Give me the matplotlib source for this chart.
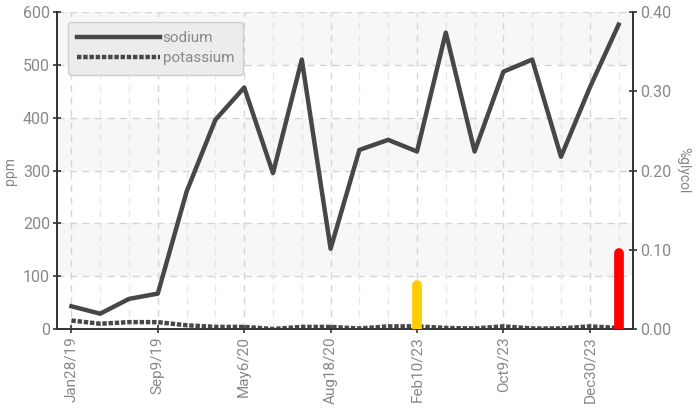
import matplotlib.pyplot as plt
import numpy as np

plt.rcParams['font.family'] = ['Roboto', 'DejaVu Sans']

sodium = [43, 29, 57, 67, 260, 396, 457, 295, 510, 152,
          339, 358, 336, 561, 336, 487, 510, 326, 457, 576]
potassium = [16, 10, 13, 13, 7, 4, 4, 0, 4, 4,
             1, 5, 5, 2, 1, 5, 1, 1, 5, 2]
tick_labels = ['Jan28/19', 'Sep9/19', 'May6/20', 'Aug18/20',
               'Feb10/23', 'Oct9/23', 'Dec30/23']
glycol_idx = [12, 19]
glycol_val = [0.055, 0.096]
glycol_col = ['#ffcc00', '#ff0000']

TXT = '#888888'
LINE = '#474747'


def plot():
    fig = plt.figure(figsize=(6.97, 4.11), dpi=100)
    ax = fig.add_axes([57 / 697, 1 - 329 / 411, (633 - 57) / 697, (329 - 12) / 411])
    ax2 = ax.twinx()

    x = np.arange(len(sodium))
    ax.set_xlim(-0.5, len(sodium) - 0.5)
    ax.set_ylim(0, 600)
    ax2.set_ylim(0, 0.40)

    # banded background
    for lo in (100, 300, 500):
        ax.axhspan(lo, lo + 100, color='#f7f7f7', zorder=0, lw=0)

    # grid
    for v in range(100, 700, 100):
        ax.axhline(v, color='#d4d4d4', lw=1, ls=(0, (5, 4)), zorder=1)
    for i in x:
        c = '#d6d6d6' if i % 3 == 0 else '#e6e6e6'
        ax.axvline(i, color=c, lw=1, ls=(0, (5, 4)), zorder=1)

    ax.plot(x, sodium, color=LINE, lw=3.2, label='sodium', zorder=3)
    ax.plot(x, potassium, color=LINE, lw=3.2, ls=(0, (1, 0.4)),
            label='potassium', zorder=3)

    lc = ax2.vlines(glycol_idx, 0, glycol_val, colors=glycol_col, lw=7, zorder=4)
    lc.set_capstyle('round')

    ticks = list(range(0, len(sodium), 3))
    ax.set_xticks(ticks)
    ax.set_xticklabels(tick_labels, rotation=90)
    ax.set_yticks(range(0, 700, 100))
    ax2.set_yticks([0, 0.1, 0.2, 0.3, 0.4])
    ax2.set_yticklabels(['0.00', '0.10', '0.20', '0.30', '0.40'])

    for a in (ax, ax2):
        a.spines['top'].set_visible(False)
        for s in ('left', 'right', 'bottom'):
            a.spines[s].set_color('#333333')
            a.spines[s].set_linewidth(1.2)
        a.tick_params(direction='inout', length=6, width=1.2, color='#333333',
                      labelcolor=TXT, labelsize=11.5, pad=2)
    ax.tick_params(axis='x', labelsize=11)

    ax.set_ylabel('ppm', color=TXT, fontsize=10, labelpad=4)
    ax2.set_ylabel('%glycol', color=TXT, fontsize=10, rotation=270, labelpad=14)

    leg = ax.legend(loc='upper left', bbox_to_anchor=(0.019, 0.968), fontsize=11,
                    handlelength=5.4, handletextpad=0.2, labelspacing=0.4,
                    borderpad=0.6, borderaxespad=0, fancybox=True, framealpha=1)
    leg.get_frame().set_facecolor('#ececec')
    leg.get_frame().set_edgecolor('#cfcfcf')
    for t in leg.get_texts():
        t.set_color(TXT)

    plt.savefig('out.png', dpi=100)


plot()
